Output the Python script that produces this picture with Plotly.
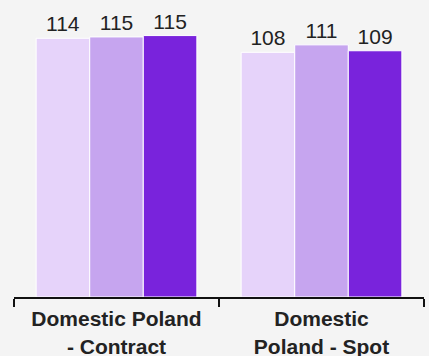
import plotly.graph_objects as go

categories = ["Domestic Poland<br>- Contract", "Domestic<br>Poland - Spot"]
series_names = ["Series A", "Series B", "Series C"]
series_values = [
    [114.2, 108.0],
    [114.8, 111.3],
    [115.4, 108.7],
]
colors = ["#e6d3fa", "#c6a5ef", "#7923dc"]

fig = go.Figure()
for name, vals, col in zip(series_names, series_values, colors):
    fig.add_trace(go.Bar(
        x=categories, y=vals, name=name,
        marker=dict(color=col, line=dict(color="#ffffff", width=1)),
        texttemplate="%{y:.0f}", textposition="outside",
        textfont=dict(family="Liberation Sans, Arial", size=21, color="#222222"),
        constraintext="none", cliponaxis=False,
    ))

fig.update_layout(
    barmode="group", bargap=0.216, bargroupgap=0,
    width=429, height=356,
    margin=dict(l=14, r=5, t=0, b=59),
    paper_bgcolor="#f4f4f4", plot_bgcolor="#f4f4f4",
    showlegend=False,
    font=dict(family="Liberation Sans, Arial", color="#222222"),
)
fig.update_xaxes(
    automargin=False,
    showline=True, linecolor="#111111", linewidth=2,
    ticks="outside", tickson="boundaries", ticklen=8, tickwidth=2, tickcolor="#111111",
    ticklabelstandoff=2,
    tickfont=dict(family="Liberation Sans, Arial", size=21, color="#222222", weight="bold"),
    showgrid=False, range=[-0.5, 1.5],
)
fig.update_yaxes(visible=False, range=[0, 131.1], showgrid=False)

fig.write_html("out.html")
